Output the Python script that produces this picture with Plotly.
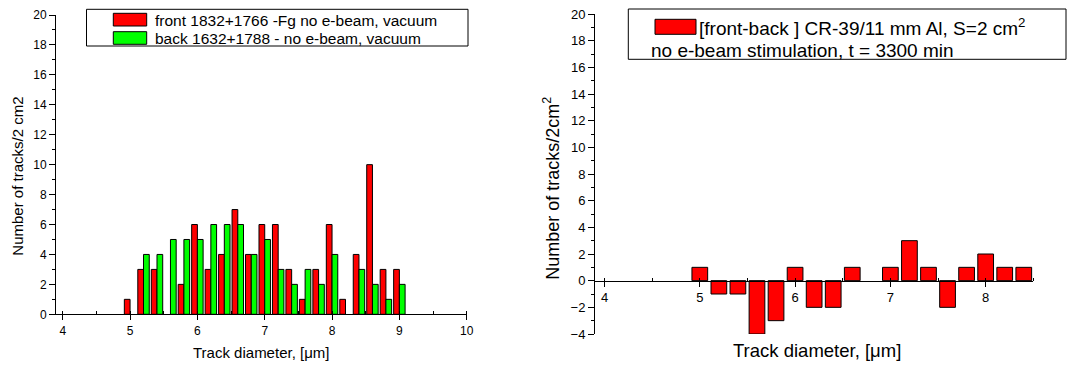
import plotly.graph_objects as go

# ---- data ----
bins_left = [5.0, 5.2, 5.4, 5.6, 5.8, 6.0, 6.2, 6.4, 6.6, 6.8, 7.0, 7.2, 7.4, 7.6, 7.8, 8.0, 8.2, 8.4, 8.6, 8.8, 9.0]
front = [1, 3, 3, 0, 2, 6, 3, 4, 7, 4, 6, 6, 3, 1, 3, 6, 1, 4, 10, 3, 3]
back = [0, 4, 4, 5, 5, 5, 6, 6, 6, 4, 5, 3, 2, 3, 2, 4, 0, 3, 2, 1, 2]

bins_right = [5.0, 5.2, 5.4, 5.6, 5.8, 6.0, 6.2, 6.4, 6.6, 6.8, 7.0, 7.2, 7.4, 7.6, 7.8, 8.0, 8.2, 8.4]
diff = [1, -1, -1, -4, -3, 1, -2, -2, 1, 0, 1, 3, 1, -2, 1, 2, 1, 1]

left_xticks = [4, 5, 6, 7, 8, 9, 10]
right_xticks = [4, 5, 6, 7, 8]

legend_front = "front 1832+1766 -Fg no e-beam, vacuum"
legend_back = "back 1632+1788 - no e-beam, vacuum"
legend_diff1 = "[front-back ] CR-39/11 mm Al, S=2 cm<sup>2</sup>"
legend_diff2 = "no e-beam stimulation, t = 3300 min"

W, H = 1067, 365
FONT = "Liberation Sans, Arial, sans-serif"
RED = "#FF0000"
GREEN = "#00FF00"


def px(x):
    return x / W


def py(y):
    return 1 - y / H


def nz(vals):
    return [v if v != 0 else None for v in vals]


fig = go.Figure()

fig.add_trace(go.Bar(x=bins_left, y=nz(front), width=0.085, offset=-0.085,
                     marker=dict(color=RED, line=dict(color="black", width=1)),
                     xaxis="x", yaxis="y", showlegend=False))
fig.add_trace(go.Bar(x=bins_left, y=nz(back), width=0.085, offset=0.0,
                     marker=dict(color=GREEN, line=dict(color="black", width=1)),
                     xaxis="x", yaxis="y", showlegend=False))
fig.add_trace(go.Bar(x=bins_right, y=nz(diff), width=0.165,
                     marker=dict(color=RED, line=dict(color="black", width=1)),
                     xaxis="x2", yaxis="y2", showlegend=False))

axis_common = dict(showline=True, linecolor="black", linewidth=1, showgrid=False,
                   zeroline=False, ticks="outside", tickcolor="black", tickwidth=1)

fig.update_layout(
    width=W, height=H,
    margin=dict(l=0, r=0, t=0, b=0, autoexpand=False),
    paper_bgcolor="white", plot_bgcolor="white",
    barmode="overlay",
    font=dict(family=FONT, color="black"),
    xaxis=dict(**axis_common, domain=[px(56), px(466.7)], range=[3.9, 10], anchor="y",
               tickvals=left_xticks, ticklen=5, tickfont=dict(size=12, family=FONT, color="black"),
               minor=dict(ticks="inside", dtick=0.5, ticklen=3, tickcolor="black")),
    yaxis=dict(**axis_common, domain=[py(314.3), py(15)], range=[0, 20], anchor="x",
               dtick=2, ticklen=6, tickfont=dict(size=12, family=FONT, color="black"),
               minor=dict(ticks="outside", dtick=1, ticklen=3, tickcolor="black")),
    xaxis2=dict(**axis_common, domain=[px(595), px(1033.3)], range=[3.9, 8.5],
                anchor="free", position=py(280.7),
                tickvals=right_xticks, ticklen=5, tickfont=dict(size=13, family=FONT, color="black"),
                minor=dict(ticks="inside", dtick=0.5, ticklen=3, tickcolor="black")),
    yaxis2=dict(**axis_common, domain=[py(334), py(14)], range=[-4, 20], anchor="x2",
                dtick=2, ticklen=6, tickfont=dict(size=13, family=FONT, color="black"),
                minor=dict(ticks="outside", dtick=1, ticklen=3, tickcolor="black")),
)

shapes = []
annotations = []

# left legend box
shapes.append(dict(type="rect", xref="paper", yref="paper",
                   x0=px(86.5), x1=px(468), y0=py(46), y1=py(9.3),
                   line=dict(color="black", width=1), fillcolor="white"))
shapes.append(dict(type="rect", xref="paper", yref="paper",
                   x0=px(113.3), x1=px(146.7), y0=py(26), y1=py(13.3),
                   line=dict(color="black", width=1), fillcolor=RED))
shapes.append(dict(type="rect", xref="paper", yref="paper",
                   x0=px(113.3), x1=px(146.7), y0=py(44.3), y1=py(31.7),
                   line=dict(color="black", width=1), fillcolor=GREEN))
annotations.append(dict(text=legend_front, xref="paper", yref="paper", x=px(153), y=py(20),
                        xanchor="left", yanchor="middle", showarrow=False,
                        font=dict(size=15.5, family=FONT, color="black")))
annotations.append(dict(text=legend_back, xref="paper", yref="paper", x=px(153), y=py(38),
                        xanchor="left", yanchor="middle", showarrow=False,
                        font=dict(size=15.5, family=FONT, color="black")))

# right legend box
shapes.append(dict(type="rect", xref="paper", yref="paper",
                   x0=px(628.3), x1=px(1066), y0=py(59.3), y1=py(9),
                   line=dict(color="black", width=1), fillcolor="white"))
shapes.append(dict(type="rect", xref="paper", yref="paper",
                   x0=px(655), x1=px(696), y0=py(34.3), y1=py(19.3),
                   line=dict(color="black", width=1), fillcolor=RED))
annotations.append(dict(text=legend_diff1, xref="paper", yref="paper", x=px(697), y=py(26.7),
                        xanchor="left", yanchor="middle", showarrow=False,
                        font=dict(size=19, family=FONT, color="black")))
annotations.append(dict(text=legend_diff2, xref="paper", yref="paper", x=px(649), y=py(50),
                        xanchor="left", yanchor="middle", showarrow=False,
                        font=dict(size=19, family=FONT, color="black")))

# axis titles
annotations.append(dict(text="Track diameter, [μm]", xref="paper", yref="paper",
                        x=px(261.3), y=py(352.7), xanchor="center", yanchor="middle",
                        showarrow=False, font=dict(size=15, family=FONT, color="black")))
annotations.append(dict(text="Number of tracks/2 cm2", xref="paper", yref="paper",
                        x=px(16.7), y=py(176), xanchor="center", yanchor="middle", textangle=-90,
                        showarrow=False, font=dict(size=15, family=FONT, color="black")))
annotations.append(dict(text="Track diameter, [μm]", xref="paper", yref="paper",
                        x=px(817.4), y=py(350), xanchor="center", yanchor="middle",
                        showarrow=False, font=dict(size=18.5, family=FONT, color="black")))
annotations.append(dict(text="Number of tracks/2cm<sup>2</sup>", xref="paper", yref="paper",
                        x=px(551.4), y=py(188.3), xanchor="center", yanchor="middle", textangle=-90,
                        showarrow=False, font=dict(size=18, family=FONT, color="black")))

fig.update_layout(shapes=shapes, annotations=annotations)

fig.write_html("out.html")
